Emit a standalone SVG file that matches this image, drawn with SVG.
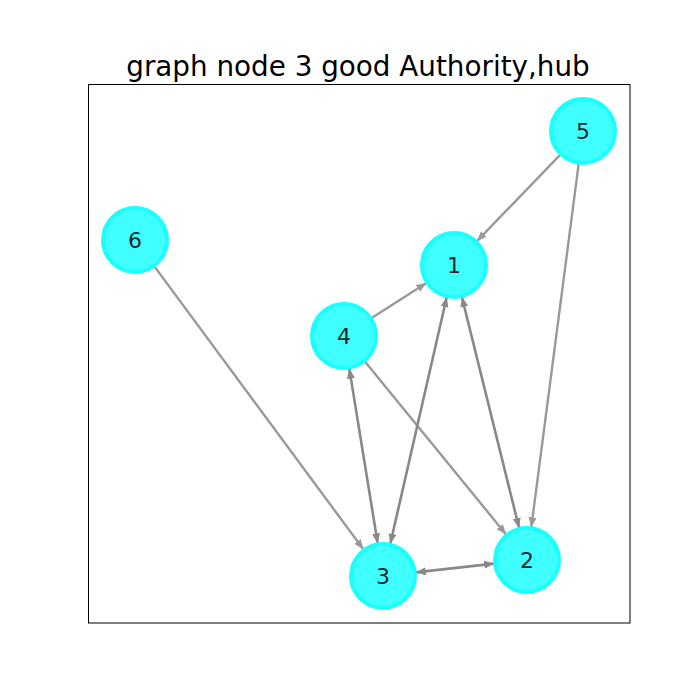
<svg xmlns="http://www.w3.org/2000/svg" width="700" height="700" viewBox="0 0 700 700">
<style>
.node circle{fill:#40ffff;stroke:#1affff;stroke-width:4}
.node text{font-family:"DejaVu Sans",sans-serif;font-size:22px;fill:#1a2a2a;text-anchor:middle;dominant-baseline:central}
.e{stroke:#999;stroke-width:2.4;fill:none}
.b{stroke:#888;stroke-width:2.6;fill:none}
</style>
<defs>
<marker id="a" markerUnits="userSpaceOnUse" markerWidth="11" markerHeight="9" refX="10" refY="4" orient="auto-start-reverse"><path d="M0,0 L10,4 L0,8 z" fill="#999"/></marker>
<marker id="ab" markerUnits="userSpaceOnUse" markerWidth="11" markerHeight="9" refX="10" refY="4" orient="auto-start-reverse"><path d="M0,0 L10,4 L0,8 z" fill="#888"/></marker>
</defs>
<rect width="700" height="700" fill="#fff"/>
<text x="358" y="76" font-family="DejaVu Sans,sans-serif" font-size="27.8" text-anchor="middle" fill="#000">graph node 3 good Authority,hub</text>
<rect x="88.5" y="84.5" width="541.5" height="538.5" fill="none" stroke="#000" stroke-width="1"/>
<g id="edges">
<line class="e" x1="560.1" y1="154.8" x2="476.9" y2="241.2" marker-end="url(#a)"/>
<line class="e" x1="578.7" y1="163.7" x2="531.3" y2="527.3" marker-end="url(#a)"/>
<line class="e" x1="154.6" y1="266.6" x2="363.4" y2="549.4" marker-end="url(#a)"/>
<line class="e" x1="371.7" y1="318.1" x2="426.3" y2="282.9" marker-end="url(#a)"/>
<line class="e" x1="364.9" y1="361.6" x2="506.1" y2="534.4" marker-end="url(#a)"/>
<line class="b" x1="349.3" y1="368.6" x2="377.7" y2="543.4" marker-start="url(#ab)" marker-end="url(#ab)"/>
<line class="b" x1="390.3" y1="543.8" x2="446.7" y2="297.2" marker-start="url(#ab)" marker-end="url(#ab)"/>
<line class="b" x1="461.9" y1="297.0" x2="519.1" y2="528.0" marker-start="url(#ab)" marker-end="url(#ab)"/>
<line class="b" x1="415.8" y1="572.4" x2="494.2" y2="563.6" marker-start="url(#ab)" marker-end="url(#ab)"/>
</g>
<g id="node1" class="node"><circle cx="454" cy="265" r="32"/><text x="454" y="265">1</text></g>
<g id="node2" class="node"><circle cx="527" cy="560" r="32"/><text x="527" y="560">2</text></g>
<g id="node3" class="node"><circle cx="383" cy="576" r="32"/><text x="383" y="576">3</text></g>
<g id="node4" class="node"><circle cx="344" cy="336" r="32"/><text x="344" y="336">4</text></g>
<g id="node5" class="node"><circle cx="583" cy="131" r="32"/><text x="583" y="131">5</text></g>
<g id="node6" class="node"><circle cx="135" cy="240" r="32"/><text x="135" y="240">6</text></g>
</svg>
